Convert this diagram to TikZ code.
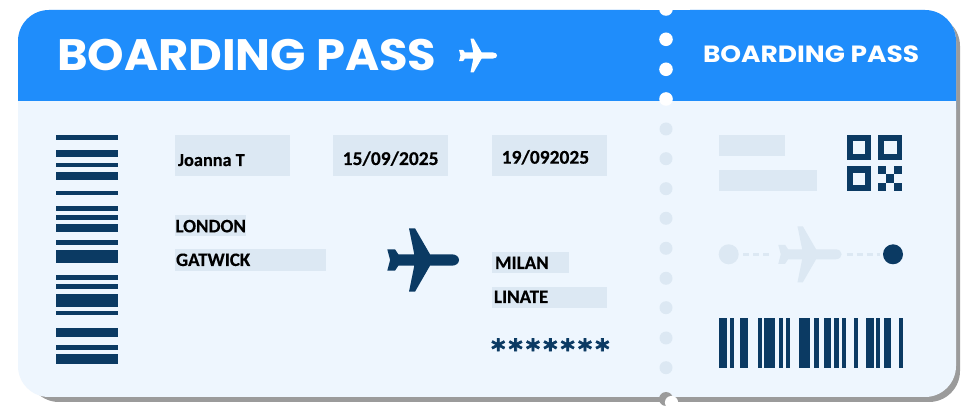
\documentclass[tikz,border=0pt]{standalone}
\usepackage{fontspec}
\newfontfamily\titlefont{Poppins}
\newfontfamily\labelfont[BoldFeatures={FakeBold=0.35}]{Carlito}
\newfontfamily\starfont[FakeBold=2.4,LetterSpace=12]{DejaVu Sans Bold}
\definecolor{hdr}{HTML}{1F8DFB}
\definecolor{cardbody}{HTML}{EEF6FE}
\definecolor{pale}{HTML}{DCE8F3}
\definecolor{navy}{HTML}{0B3A63}
\definecolor{shadowgray}{HTML}{9B9B9B}
\newcommand{\planepath}{(0,-10.7) -- (7.7,-10.7) -- (11,-5.7) -- (27,-5.7) -- (21.7,-31.7) -- (27.7,-31.7) -- (42.7,-5.7) -- (64.4,-5.7) .. controls (69,-5.7) and (71.7,-3) .. (71.7,0) .. controls (71.7,3) and (69,5.7) .. (64.4,5.7) -- (42.7,5.7) -- (27.7,31.7) -- (21.7,31.7) -- (27,5.7) -- (11,5.7) -- (7.7,10.7) -- (0,10.7) -- (2.8,0) -- cycle}
\tikzset{
  x=1pt, y=-1pt,
  field/.style={fill=pale, draw=none},
  bar/.style={fill=navy, draw=none},
  lbl/.style={anchor=base west, inner sep=0pt, outer sep=0pt, text=black, font=\labelfont\bfseries\fontsize{19}{19}\selectfont},
  ttl/.style={inner sep=0pt, outer sep=0pt, text=white, font=\titlefont\bfseries},
  hole/.style={fill=white, draw=none},
  pdot/.style={fill=pale, draw=none},
  routedash/.style={draw=pale, line width=2.6pt, dash pattern=on 6pt off 4pt}
}
\begin{document}
\begin{tikzpicture}
\useasboundingbox (0,0) rectangle (980,419);
\fill[white] (0,0) rectangle (980,419);
% shadow
\fill[shadowgray, rounded corners=31pt] (28,15) rectangle (960,402);
% card
\fill[cardbody, rounded corners=31pt] (18,10) rectangle (956,397);
% header
\fill[hdr, rounded corners=31pt] (18,140) -- (18,10) -- (956,10) -- (956,140) -- cycle;
\fill[cardbody] (18,101) rectangle (956,145);
% perforation
\foreach \yy in {9,39.3,69.3,99}
  \fill[hole] (666,\yy) circle (6.8);
\fill[white] (640,0) rectangle (690,10);
\foreach \yy in {129,158.7,188.7,218.3,248.3,278.3,307.7,338,367.7}
  \fill[pdot] (666,\yy) circle (6.5);
\fill[shadowgray] (666,399) circle (7);
\fill[white] (671.5,402.5) circle (6.6);
% titles
\node[ttl, anchor=base west, font=\titlefont\bfseries\fontsize{44}{44}\selectfont] (title) at (57,71) {\scalebox{1.055}[1]{BOARDING PASS}};
\node[ttl, anchor=base west, font=\titlefont\bfseries\fontsize{23.5}{23.5}\selectfont] (stub) at (703,62.3) {\scalebox{1.125}[1]{BOARDING PASS}};
\begin{scope}[shift={(459,55.5)}, scale=0.53]
  \fill[white] \planepath;
\end{scope}
% left barcode
\foreach \ya/\yb in {135/140,150/157.5,163/167,172/180,191/195.5,205.7/211,215/219.7,224/232,239.7/244.7,249.7/263.3,275/280.3,284/289.3,293.7/307.3,310.7/315.3,327.7/337.3,345/349.7,354/363.7}
  \fill[bar] (55.5,\ya) rectangle (118,\yb);
% fields
\fill[field] (175,135) rectangle (290,175.7);
\fill[field] (333.3,135) rectangle (448.3,175.7);
\fill[field] (491.7,135) rectangle (606.7,175.7);
\fill[field] (175,214.7) rectangle (246,235.7);
\fill[field] (175,249.3) rectangle (326,270.7);
\fill[field] (491.7,252.3) rectangle (569.3,273.3);
\fill[field] (491.7,287) rectangle (606.7,308);
% labels
\node[lbl, font=\labelfont\bfseries\fontsize{18.3}{18.3}\selectfont] (name) at (178,166) {Joanna T};
\node[lbl, font=\labelfont\bfseries\fontsize{19.5}{19.5}\selectfont] (out) at (342.7,165) {15/09/2025};
\node[lbl, font=\labelfont\bfseries\fontsize{19.5}{19.5}\selectfont] (back) at (501.7,163.7) {19/092025};
\node[lbl] (from) at (175.5,232.3) {LONDON};
\node[lbl] (fromap) at (176,266) {GATWICK};
\node[lbl] (to) at (495,269) {MILAN};
\node[lbl] (toap) at (494,303) {LINATE};
\node[anchor=base west, inner sep=0pt, text=navy, font=\starfont\fontsize{27}{27}\selectfont] (stars) at (491,358.6) {*******};
% main plane
\begin{scope}[shift={(387.3,260)}]
  \fill[navy] \planepath;
\end{scope}
% stub fields
\fill[field] (719,135) rectangle (785,156.3);
\fill[field] (719,169.7) rectangle (816.7,191);
% QR
\fill[bar] (846.7,135) rectangle (871.3,159.7);
\fill[bar] (878,135) rectangle (902.3,159.7);
\fill[bar] (846.7,166.3) rectangle (871.3,191);
\fill[cardbody] (852.7,141.3) rectangle (865.3,153.7);
\fill[cardbody] (884,141.3) rectangle (896.5,153.7);
\fill[cardbody] (852.7,172.7) rectangle (865.3,185);
\fill[bar] (878,166.3) rectangle (886,174.5);
\fill[bar] (894.2,166.3) rectangle (902.3,174.5);
\fill[bar] (886,174.5) rectangle (894.2,182.8);
\fill[bar] (878,182.8) rectangle (886,191);
\fill[bar] (894.2,182.8) rectangle (902.3,191);
% route
\node[circle, fill=pale, minimum size=20pt, inner sep=0pt] (dep) at (728.7,254.3) {};
\node[circle, fill=navy, minimum size=20pt, inner sep=0pt] (arr) at (893,254.3) {};
\coordinate (pt) at (778.3,254.3);
\coordinate (pn) at (841.7,254.3);
\draw[routedash] ([xshift=4.5pt]dep.east) -- ([xshift=-5pt]pt);
\draw[routedash] ([xshift=5pt]pn) -- ([xshift=-3pt]arr.west);
\begin{scope}[shift={(778.3,254.3)}, scale=0.884]
  \fill[pale] \planepath;
\end{scope}
% stub barcode
\foreach \xa/\xb in {719/726.7,730/734,740/748,757.7/761.7,763.7/775.3,778.7/783,785.7/790,799.3/810.3,814.3/818.7,824/831.3,834.3/838.7,841.7/846,853.7/857.7,866.3/873.7,876.3/880.3,884/891.3,898.7/902.7}
  \fill[bar] (\xa,318.3) rectangle (\xb,367.7);
\end{tikzpicture}
\end{document}
